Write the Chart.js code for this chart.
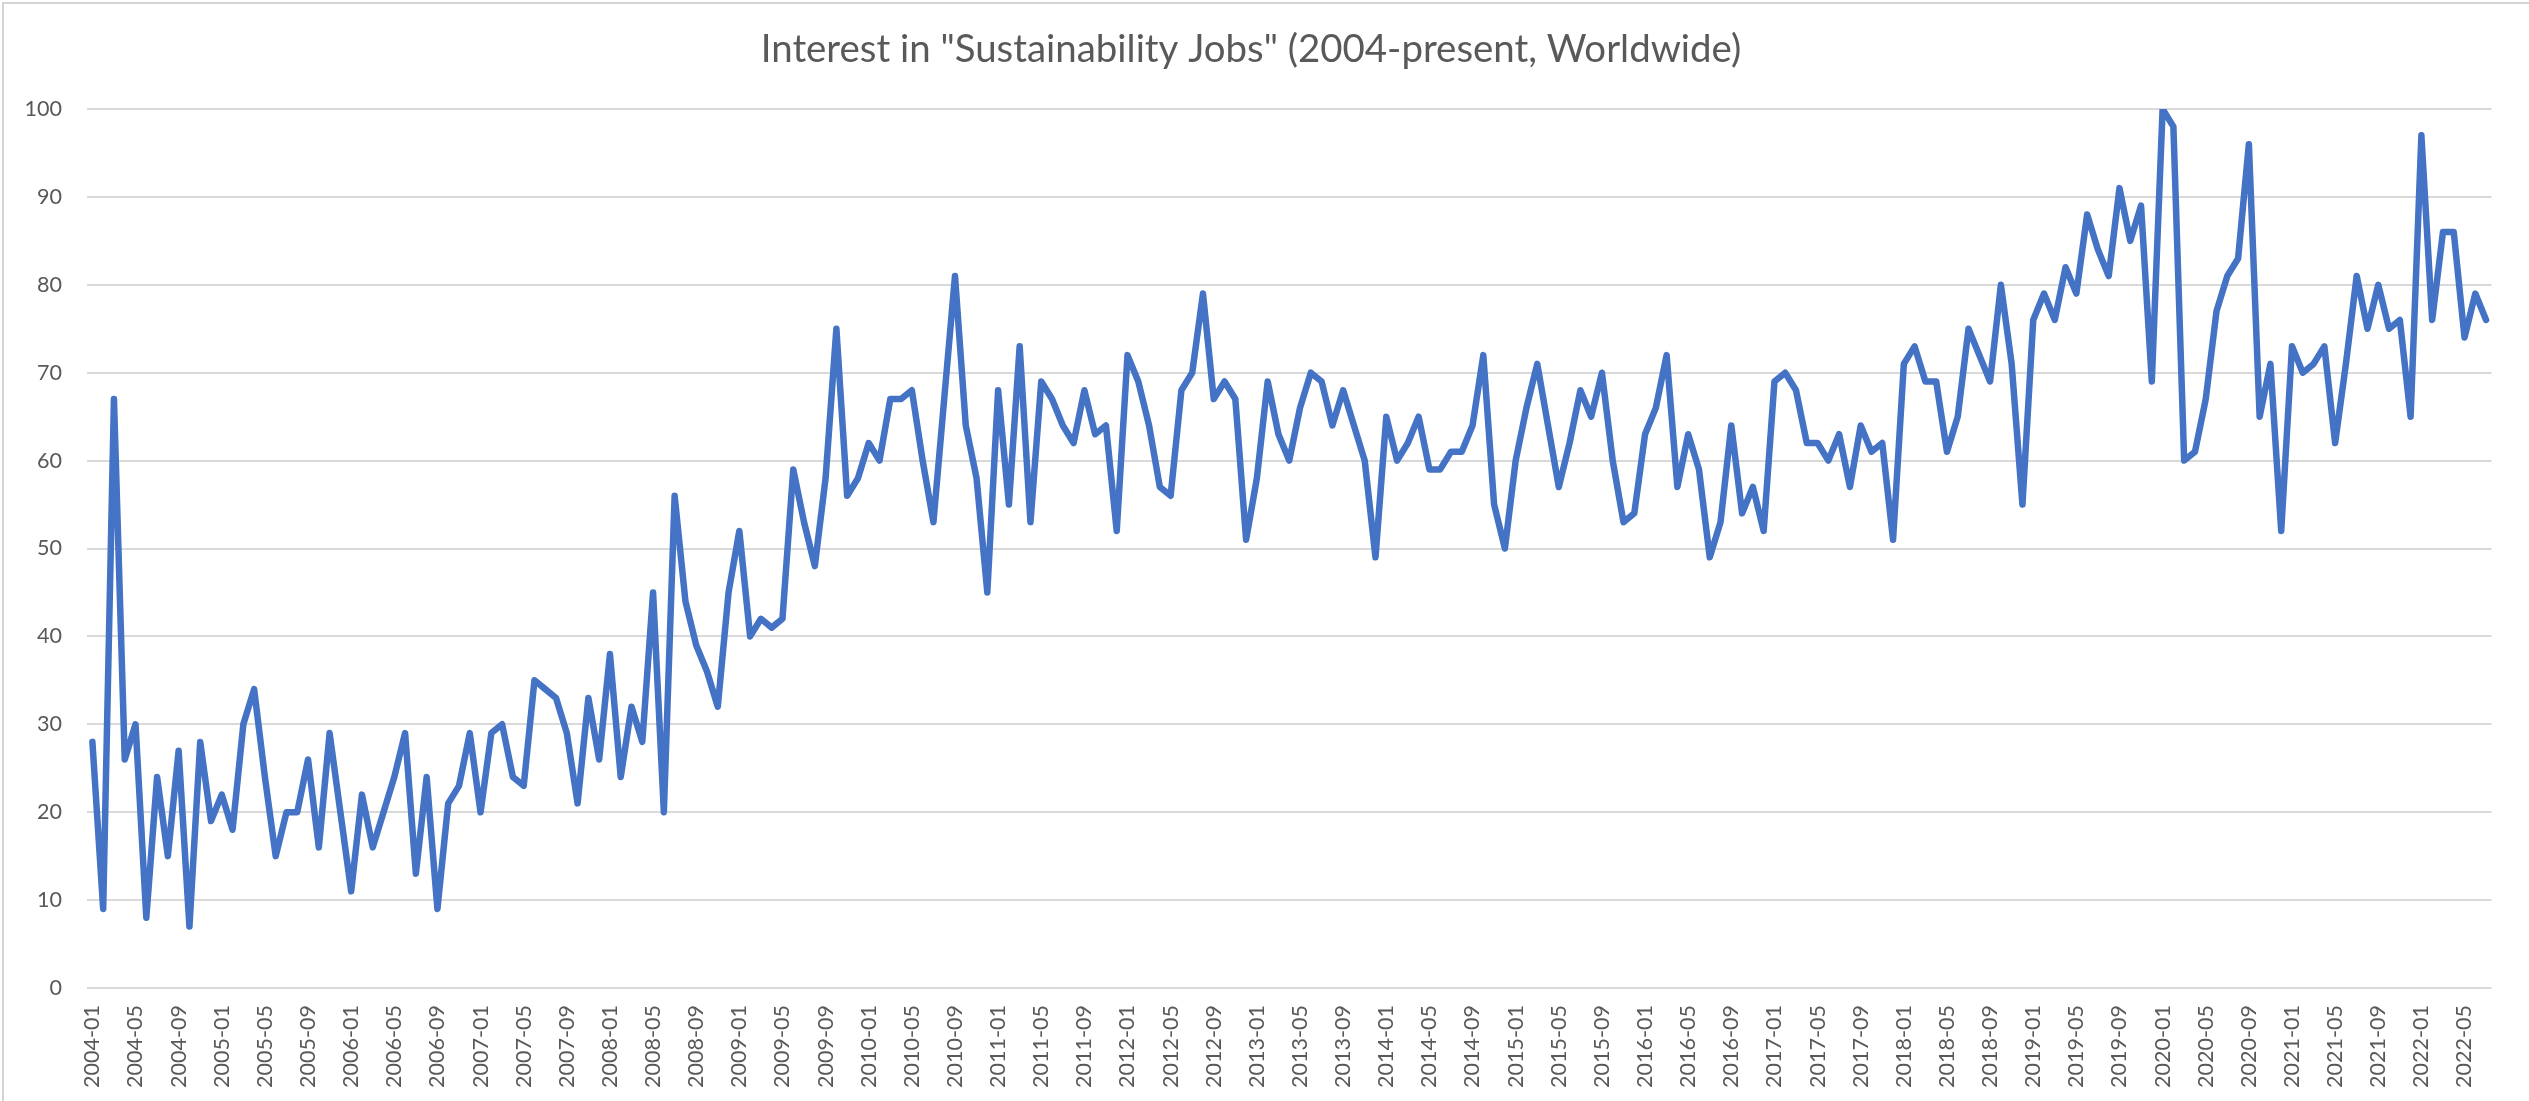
<!DOCTYPE html>
<html>
<head>
<meta charset="utf-8">
<script src="https://cdn.jsdelivr.net/npm/chart.js@4/dist/chart.umd.min.js"></script>
<style>
  html, body { margin: 0; padding: 0; background: #ffffff; }
  #wrap { position: relative; width: 2529px; height: 1101px; }
  #frame { position: absolute; left: 2px; top: 2px; right: -10px; bottom: -10px;
           border-left: 2px solid #d4d4d4; border-top: 2px solid #d4d4d4; pointer-events: none; }
</style>
</head>
<body>
<div id="wrap">
  <canvas id="c" width="2529" height="1101"></canvas>
  <div id="frame"></div>
</div>
<script>
// ---- Data (monthly, 2004-01 .. 2022-07) ----
const titleText = 'Interest in "Sustainability Jobs" (2004-present, Worldwide)';
const startYear = 2004;
const v2004 = [28, 9, 67, 26, 30, 8, 24, 15, 27, 7, 28, 19];
const v2005 = [22, 18, 30, 34, 24, 15, 20, 20, 26, 16, 29, 20];
const v2006 = [11, 22, 16, 20, 24, 29, 13, 24, 9, 21, 23, 29];
const v2007 = [20, 29, 30, 24, 23, 35, 34, 33, 29, 21, 33, 26];
const v2008 = [38, 24, 32, 28, 45, 20, 56, 44, 39, 36, 32, 45];
const v2009 = [52, 40, 42, 41, 42, 59, 53, 48, 58, 75, 56, 58];
const v2010 = [62, 60, 67, 67, 68, 60, 53, 67, 81, 64, 58, 45];
const v2011 = [68, 55, 73, 53, 69, 67, 64, 62, 68, 63, 64, 52];
const v2012 = [72, 69, 64, 57, 56, 68, 70, 79, 67, 69, 67, 51];
const v2013 = [58, 69, 63, 60, 66, 70, 69, 64, 68, 64, 60, 49];
const v2014 = [65, 60, 62, 65, 59, 59, 61, 61, 64, 72, 55, 50];
const v2015 = [60, 66, 71, 64, 57, 62, 68, 65, 70, 60, 53, 54];
const v2016 = [63, 66, 72, 57, 63, 59, 49, 53, 64, 54, 57, 52];
const v2017 = [69, 70, 68, 62, 62, 60, 63, 57, 64, 61, 62, 51];
const v2018 = [71, 73, 69, 69, 61, 65, 75, 72, 69, 80, 71, 55];
const v2019 = [76, 79, 76, 82, 79, 88, 84, 81, 91, 85, 89, 69];
const v2020 = [100, 98, 60, 61, 67, 77, 81, 83, 96, 65, 71, 52];
const v2021 = [73, 70, 71, 73, 62, 71, 81, 75, 80, 75, 76, 65];
const v2022 = [97, 76, 86, 86, 74, 79, 76];

const yearly = [v2004, v2005, v2006, v2007, v2008, v2009, v2010, v2011, v2012,
                v2013, v2014, v2015, v2016, v2017, v2018, v2019, v2020, v2021, v2022];
const values = [].concat(...yearly);
const categories = [];
yearly.forEach((arr, yi) => {
  arr.forEach((_, mi) => {
    categories.push((startYear + yi) + '-' + String(mi + 1).padStart(2, '0'));
  });
});
const yTicks = [0, 10, 20, 30, 40, 50, 60, 70, 80, 90, 100];

// ---- Font sizing helpers ----
const FONT = 'Lato, "Open Sans", sans-serif';
function fitSize(text, targetW) {
  const ctx = document.createElement('canvas').getContext('2d');
  ctx.font = '100px ' + FONT;
  return 100 * targetW / ctx.measureText(text).width;
}
const titleSize = fitSize(titleText, 981);
const tickSize = fitSize('2004-01', 83);

const GRID_TOP = 109, GRID_BOTTOM = 988, LEFT = 87, RIGHT_PAD = 27;
const titleCenter = 50;

new Chart(document.getElementById('c'), {
  type: 'line',
  data: {
    labels: categories,
    datasets: [{
      data: values,
      borderColor: '#4472C4',
      borderWidth: 6.5,
      pointRadius: 0,
      tension: 0,
      borderJoinStyle: 'round',
      borderCapStyle: 'round',
      fill: false
    }]
  },
  options: {
    responsive: false,
    animation: false,
    layout: { padding: { left: 0, right: RIGHT_PAD, top: 0, bottom: 0 } },
    plugins: {
      legend: { display: false },
      tooltip: { enabled: false },
      title: {
        display: true,
        text: titleText,
        color: '#595959',
        font: { family: FONT, size: titleSize, weight: 'normal', lineHeight: 1.2 },
        padding: { top: titleCenter - 0.6 * titleSize, bottom: GRID_TOP - titleCenter - 0.6 * titleSize }
      }
    },
    scales: {
      x: {
        offset: true,
        grid: { display: false, drawTicks: false },
        border: { display: false },
        ticks: {
          autoSkip: false,
          minRotation: 90,
          maxRotation: 90,
          padding: 17,
          color: '#595959',
          font: { family: FONT, size: tickSize },
          callback: function (val, idx) { return idx % 4 === 0 ? categories[idx] : ''; }
        },
        afterFit: function (s) { s.height = 1101 - GRID_BOTTOM; }
      },
      y: {
        min: 0,
        max: 100,
        afterBuildTicks: function (s) { s.ticks = yTicks.map(v => ({ value: v })); },
        grid: { color: '#d9d9d9', lineWidth: 2, drawTicks: false },
        border: { display: false },
        ticks: {
          padding: 25,
          color: '#595959',
          font: { family: FONT, size: tickSize }
        },
        afterFit: function (s) { s.width = LEFT; }
      }
    }
  }
});
</script>
</body>
</html>
